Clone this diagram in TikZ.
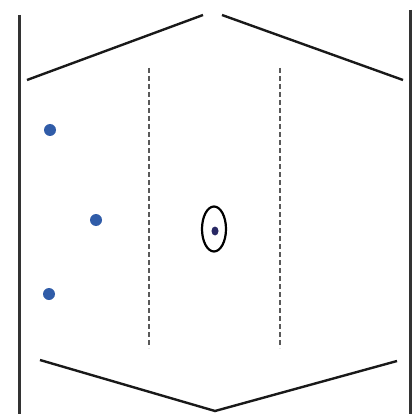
\documentclass[tikz,border=0pt]{standalone}
\usetikzlibrary{shapes.geometric}
\definecolor{beadblue}{RGB}{48,92,168}
\definecolor{corenavy}{RGB}{40,40,100}
\begin{document}
\begin{tikzpicture}[x=1pt,y=-1pt,
  wall/.style={line width=3pt,draw=black!80},
  edge/.style={line width=2.4pt,draw=black!90},
  guide/.style={line width=1.7pt,draw=black!65,dash pattern=on 5pt off 3pt},
  bead/.style={circle,fill=beadblue,minimum size=12pt,inner sep=0pt},
  core/.style={ellipse,fill=corenavy,minimum width=7pt,minimum height=9pt,inner sep=0pt},
  ring/.style={ellipse,draw=black,line width=2.2pt,minimum width=24pt,minimum height=45pt,inner sep=0pt}]
\useasboundingbox (0,0) rectangle (412,414);
% walls
\draw[wall] (19,15) -- (19,414);
\draw[wall] (410,10) -- (410,414);
% top roof
\draw[edge] (27,80) -- (203,15);
\draw[edge] (222,15) -- (403,80);
% bottom
\draw[edge] (40,360) -- (215,411) -- (397,361);
% dashed guides
\draw[guide] (149,68) -- (149,348);
\draw[guide] (280,68) -- (280,348);
% beads
\node[bead] (b1) at (50,130) {};
\node[bead] (b2) at (96,220) {};
\node[bead] (b3) at (49,294) {};
% ringed core
\node[core] (c) at (215,231) {};
\node[ring] (r) at (214,229) {};
\end{tikzpicture}
\end{document}
